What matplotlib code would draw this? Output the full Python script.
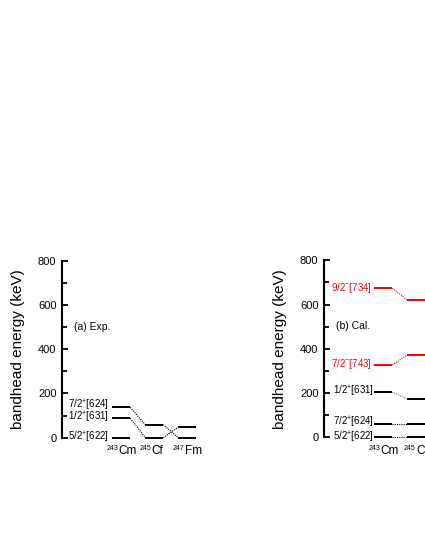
import matplotlib.pyplot as plt
import numpy as np

plt.rcParams['font.family'] = ['Liberation Sans', 'DejaVu Sans']
plt.rcParams['mathtext.default'] = 'regular'

# experimental bandheads (keV), None = not shown
nuc_exp = ['Cm', 'Cf', 'Fm']
mass_exp = ['243', '245', '247']
exp_622 = [0, None, None]
exp_631 = [88, 0, 48]
exp_624 = [137, 59, 0]

# calculated bandheads (keV)
nuc_cal = ['Cm', 'Cf']
mass_cal = ['243', '245']
cal_622 = [0, 0]
cal_624 = [62, 62]
cal_631 = [204, 173]
cal_743 = [327, 372]
cal_734 = [674, 621]

RED = '#ff0000'
hw = 0.27  # half width of a level
FS = 7


def draw_band(ax, vals, color, dot_color):
    prev = None
    for i, v in enumerate(vals):
        if v is None:
            prev = None
            continue
        ax.plot([i + 1 - hw, i + 1 + hw], [v, v], color=color, lw=1.4,
                solid_capstyle='butt', clip_on=False)
        if prev is not None:
            ax.plot([i + hw, i + 1 - hw], [prev, v], color=dot_color,
                    lw=0.8, ls=(0, (1, 1)), clip_on=False)
        prev = v


def setup(ax, nuclei, masses, tag, shift):
    ax.set_xlim(-0.8, 3.6)
    ax.set_ylim(0, 800)
    for s in ['top', 'right', 'bottom']:
        ax.spines[s].set_visible(False)
    ax.spines['left'].set_linewidth(1.5)
    ax.set_xticks([])
    ax.set_yticks([0, 200, 400, 600, 800])
    ax.set_yticks([100, 300, 500, 700], minor=True)
    ax.tick_params(axis='y', which='major', direction='in', length=4, width=1.3,
                   labelsize=8, pad=4)
    ax.tick_params(axis='y', which='minor', direction='in', length=3.5, width=1.3)
    ax.set_ylabel('bandhead energy (keV)', fontsize=11, labelpad=9)
    ax.patch.set_alpha(0)
    for i, (n, m) in enumerate(zip(nuclei, masses)):
        xb = i + 1 - 0.08 + shift * i
        ax.text(xb, -60, n, ha='left', va='center', fontsize=8.5, clip_on=False)
        ax.text(xb - 0.02, -50, m, ha='right', va='center', fontsize=5, clip_on=False)
    ax.text(-0.45, 502, tag, ha='left', va='center', fontsize=7.5)


fig = plt.figure(figsize=(4.25, 5.5), dpi=100)
ax1 = fig.add_axes([62 / 425, 1 - 437.7 / 550, 145 / 425, 177 / 550])
ax2 = fig.add_axes([324 / 425, 1 - 437.3 / 550, 145 / 425, 177 / 550])

# (a) experiment
setup(ax1, nuc_exp, mass_exp, '(a) Exp.', 0.0)
for band in [exp_622, exp_631, exp_624]:
    draw_band(ax1, band, 'black', 'black')
lx = 0.63
ax1.text(lx, exp_624[0] + 7, '7/2$^{+}$[624]', ha='right', va='center', fontsize=FS)
ax1.text(lx, exp_631[0] + 2, '1/2$^{+}$[631]', ha='right', va='center', fontsize=FS)
ax1.text(lx, exp_622[0] + 3, '5/2$^{+}$[622]', ha='right', va='center', fontsize=FS)

# (b) calculation
setup(ax2, nuc_cal, mass_cal, '(b) Cal.', 0.08)
draw_band(ax2, cal_622, 'black', 'black')
draw_band(ax2, cal_624, 'black', 'black')
draw_band(ax2, cal_631, 'black', '#777777')
draw_band(ax2, cal_743, RED, RED)
draw_band(ax2, cal_734, RED, RED)
lx = 0.66
ax2.text(lx, cal_734[0] + 3, '9/2$^{-}$[734]', ha='right', va='center', fontsize=FS, color=RED)
ax2.text(lx, cal_743[0] + 3, '7/2$^{-}$[743]', ha='right', va='center', fontsize=FS, color=RED)
ax2.text(lx + 0.05, cal_631[0] + 3, '1/2$^{+}$[631]', ha='right', va='center', fontsize=FS)
ax2.text(lx + 0.05, cal_624[0] + 6, '7/2$^{+}$[624]', ha='right', va='center', fontsize=FS)
ax2.text(lx + 0.05, cal_622[0] + 1, '5/2$^{+}$[622]', ha='right', va='center', fontsize=FS)

fig.savefig('out.png', dpi=100)
